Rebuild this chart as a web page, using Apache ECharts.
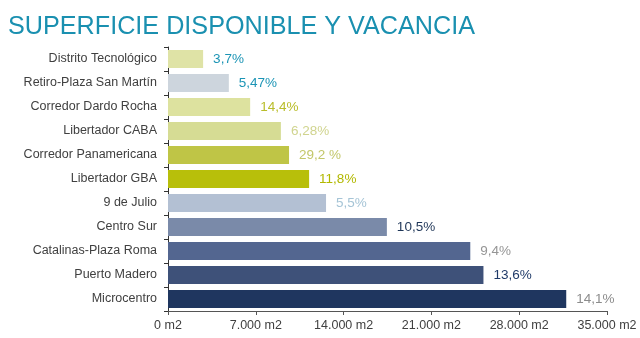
<!DOCTYPE html>
<html>
<head>
<meta charset="utf-8">
<script src="https://cdn.jsdelivr.net/npm/echarts@6/dist/echarts.min.js"></script>
<style>html,body{margin:0;padding:0;background:#fff;}#c{width:640px;height:338px;}</style>
</head>
<body>
<div id="c"></div>
<script>
// Categories listed top to bottom
const categories = ["Distrito Tecnológico","Retiro-Plaza San Martín","Corredor Dardo Rocha","Libertador CABA","Corredor Panamericana","Libertador GBA","9 de Julio","Centro Sur","Catalinas-Plaza Roma","Puerto Madero","Microcentro"];
const surfaceM2 = [2800, 4850, 6550, 9000, 9650, 11250, 12600, 17450, 24100, 25150, 31750];
const vacancyLabels = ["3,7%","5,47%","14,4%","6,28%","29,2 %","11,8%","5,5%","10,5%","9,4%","13,6%","14,1%"];
const barColors = ["#dfe3a6","#cdd5dd","#dde29f","#d6dc94","#bfc546","#b8bf0a","#b3c0d3","#7a8aa9","#536690","#3e5179","#1f365f"];
const labelColors = ["#1b94b5","#1b94b5","#b9bd2a","#d0d48f","#c3c76a","#b2b800","#a5c4d6","#1f3658","#959595","#1f3a68","#8c8c8c"];
const xTicks = [0, 7000, 14000, 21000, 28000, 35000];

const chart = echarts.init(document.getElementById('c'), null, {renderer:'canvas'});
const fmt = v => (v === 0 ? '0' : (v/1000).toFixed(3)) + ' m2';
chart.setOption({
  animation:false,
  title:{
    text:'SUPERFICIE DISPONIBLE Y VACANCIA',
    left:3, top:10,
    textStyle:{fontFamily:'Liberation Sans, Arial, sans-serif', fontSize:25.2, fontWeight:'normal', color:'#1a90b0'}
  },
  grid:{left:168, right:33, top:47, bottom:27, containLabel:false},
  xAxis:{
    type:'value', min:xTicks[0], max:xTicks[xTicks.length-1], interval:7000,
    axisLine:{show:true, lineStyle:{color:'#555', width:1}},
    axisTick:{show:true, length:4, lineStyle:{color:'#555'}},
    splitLine:{show:false},
    axisLabel:{formatter:fmt, fontFamily:'Liberation Sans, Arial, sans-serif', fontSize:12.5, color:'#404040', margin:8}
  },
  yAxis:{
    type:'category', inverse:true, data:categories,
    axisLine:{show:true, lineStyle:{color:'#333', width:1}},
    axisTick:{show:true, length:4, lineStyle:{color:'#333'}},
    axisLabel:{fontFamily:'Liberation Sans, Arial, sans-serif', fontSize:12.5, color:'#404040', margin:11}
  },
  series:[{
    type:'bar',
    data:surfaceM2.map((v,i)=>({value:v, itemStyle:{color:barColors[i]},
      label:{color:labelColors[i]}})),
    barWidth:18,
    label:{show:true, position:'right', distance:10,
      fontFamily:'Liberation Sans, Arial, sans-serif', fontSize:13.5,
      formatter:p=>vacancyLabels[p.dataIndex]}
  }]
});
</script>
</body>
</html>
